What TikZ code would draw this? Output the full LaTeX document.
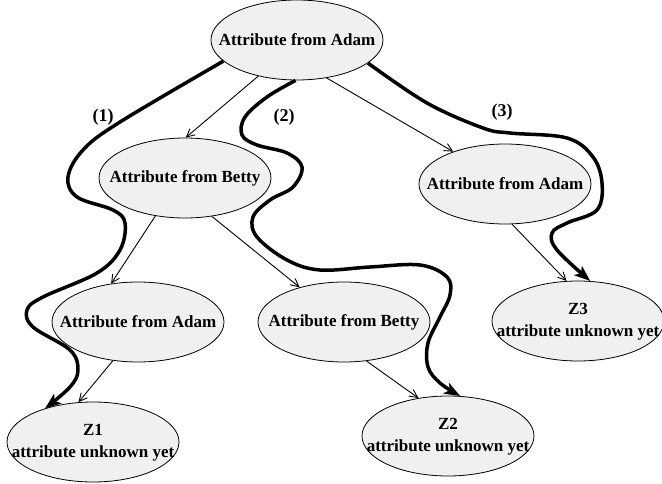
\documentclass[tikz,border=0pt]{standalone}
\usepackage{fontspec}
\setmainfont{Liberation Serif}
\usetikzlibrary{shapes.geometric,arrows.meta}
\begin{document}
\begin{tikzpicture}[x=1pt,y=-1pt,
  ell/.style={ellipse,draw,line width=0.8pt,fill=black!6,minimum width=172pt,minimum height=80pt,inner sep=0pt,font=\bfseries\fontsize{17}{22}\selectfont},
  thinarrow/.style={line width=0.9pt,-{Straight Barb[length=8pt,width=8pt]}},
  route/.style={line width=3.5pt,line join=round,-{Stealth[length=16pt,width=12pt,inset=4pt]}},
  lbl/.style={font=\bfseries\fontsize{18}{22}\selectfont}]
\useasboundingbox (0,0) rectangle (662,484);
\node[ell] (top) at (297,40) {\makebox[0pt]{Attribute from Adam}};
\node[ell] (b1) at (185,178) {\makebox[0pt]{Attribute from Betty}};
\node[ell] (a1) at (505,184) {\makebox[0pt]{Attribute from Adam}};
\node[ell] (a2) at (138,322) {\makebox[0pt]{Attribute from Adam}};
\node[ell] (b2) at (344,322) {\makebox[0pt]{Attribute from Betty}};
\node[ell] (z1) at (93,442) {\makebox[0pt]{\begin{tabular}{@{}c@{}}Z1\\attribute unknown yet\end{tabular}}};
\node[ell] (z2) at (448,436) {\makebox[0pt]{\begin{tabular}{@{}c@{}}Z2\\attribute unknown yet\end{tabular}}};
\node[ell] (z3) at (578,321) {\makebox[0pt]{\begin{tabular}{@{}c@{}}Z3\\attribute unknown yet\end{tabular}}};
\node[lbl] (l1) at (103,117) {(1)};
\node[lbl] (l2) at (284,117) {(2)};
\node[lbl] (l3) at (502,112) {(3)};
\draw[thinarrow] (top.223) -- (b1.89);
\draw[thinarrow] (top.308) -- (a1.148);
\draw[thinarrow] (b1.232) -- (a2.125);
\draw[thinarrow] (b1.305) -- (b2.142);
\draw[thinarrow] (a2.237) -- (z1.110);
\draw[thinarrow] (b2.300) -- (z2.128);
\draw[thinarrow] (a1.280) -- (z3.106);
\draw[route] plot[smooth,tension=0.6] coordinates {(top.196) (120,122) (83,150) (68,177) (77,197) (113,210) (125,223) (120,250) (97,273) (43,297) (27,310) (33,327) (70,350) (78,370) (70,387) (z1.145)};
\draw[route] plot[smooth,tension=0.6] coordinates {(top.268) (267,97) (245,117) (242,135) (257,145) (287,153) (302,167) (293,187) (270,200) (253,217) (257,237) (287,260) (320,270) (370,267) (420,265) (447,277) (450,295) (440,317) (428,343) (428,367) (440,383) (z2.73)};
\draw[route] plot[smooth,tension=0.6] coordinates {(top.342) (427,103) (483,128) (510,133) (567,138) (593,157) (602,183) (597,210) (567,223) (552,233) (557,250) (z3.73)};
\end{tikzpicture}
\end{document}
